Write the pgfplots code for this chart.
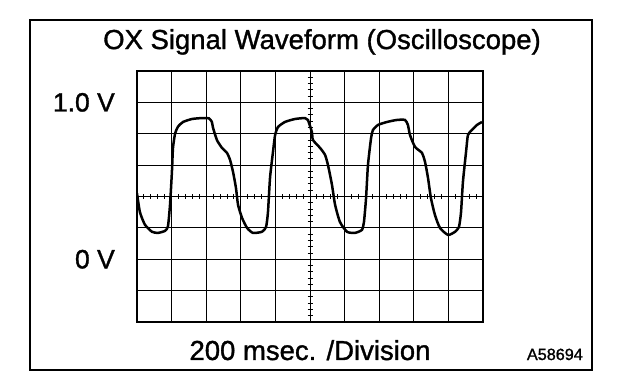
\documentclass[border=0pt]{standalone}
\usepackage{fontspec}
\setmainfont{Liberation Sans}[FakeBold=1.2]
\usepackage{pgfplots}
\pgfplotsset{compat=1.18}
\begin{document}
\begin{tikzpicture}
\path[use as bounding box] (0,0) rectangle (624bp,390bp);
\draw[line width=2.5bp] (30bp,20bp) rectangle (592bp,370bp);
\begin{axis}[at={(137bp,68bp)}, anchor=south west, scale only axis,
  width=346bp, height=251bp,
  xmin=0, xmax=2000, ymin=-0.4, ymax=1.2,
  xtick={0,200,...,2000},
  ytick={-0.4,-0.2,0,0.2,0.4,0.6,0.8,1.0,1.2},
  xticklabels={},
  yticklabels={,,0 V,,,,,1.0 V,},
  major tick length=0pt,
  grid=major, grid style={black, line width=0.8bp},
  axis line style={line width=1.6bp},
  y tick label style={font=\fontsize{26.5bp}{30bp}\selectfont, anchor=east, inner sep=0pt, xshift=-22bp},
  title={OX Signal Waveform (Oscilloscope)},
  title style={font=\fontsize{27.5bp}{32bp}\selectfont, at={(0.5,1)}, anchor=base, yshift=16bp, xshift=12bp, inner sep=0pt},
  xlabel={200 msec. /Division},
  xlabel style={font=\fontsize{27.5bp}{32bp}\selectfont, at={(0.5,0)}, anchor=base, yshift=-38bp, inner sep=0pt},
]
\addplot[black, line width=2.5bp, smooth, tension=0.35] coordinates {
(0,0.42) (17,0.30) (46,0.22) (87,0.175) (121,0.168) (162,0.181) (179,0.21)
(191,0.35) (202,0.56) (208,0.71) (220,0.80) (237,0.845) (266,0.875) (318,0.894)
(376,0.90) (416,0.898) (433,0.875) (439,0.84) (462,0.76) (491,0.71) (520,0.678)
(538,0.633) (555,0.557) (572,0.455) (584,0.347) (607,0.264) (636,0.20) (670,0.168)
(722,0.175) (746,0.206) (757,0.30) (769,0.52) (786,0.684) (798,0.79) (815,0.843)
(855,0.875) (913,0.894) (971,0.90) (988,0.888) (1011,0.81) (1017,0.76) (1058,0.71)
(1087,0.665) (1104,0.60) (1127,0.474) (1145,0.347) (1173,0.238) (1214,0.175)
(1260,0.168) (1300,0.187) (1312,0.238) (1324,0.39) (1335,0.60) (1353,0.773)
(1364,0.824) (1393,0.856) (1445,0.875) (1503,0.888) (1549,0.888) (1566,0.856)
(1578,0.792) (1607,0.716) (1647,0.678) (1665,0.62) (1682,0.519) (1699,0.39)
(1722,0.283) (1751,0.20) (1798,0.155) (1838,0.175) (1861,0.206) (1873,0.30)
(1884,0.493) (1902,0.684) (1913,0.792) (1936,0.824) (1965,0.856) (1994,0.875)
};
\end{axis}
\begin{axis}[at={(137bp,68bp)}, anchor=south west, scale only axis,
  width=346bp, height=251bp,
  xmin=-25, xmax=25, ymin=-20, ymax=20,
  axis lines=middle, axis line style={-, line width=1bp},
  xtick={-24,-23,...,24}, ytick={-19,-18,...,19},
  xticklabels={}, yticklabels={},
  major tick length=5bp, tick align=center,
  every tick/.append style={line width=0.9bp, black},
]
\end{axis}
\node[anchor=base east, inner sep=0pt, font=\fontsize{16.2bp}{18bp}\selectfont] at (583bp,30bp) {A58694};
\end{tikzpicture}
\end{document}
